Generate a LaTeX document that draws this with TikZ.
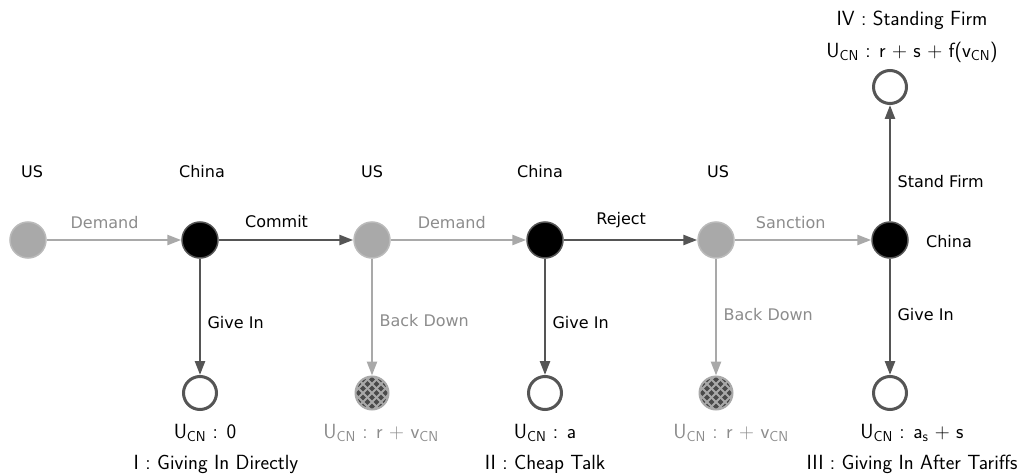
\documentclass[tikz,border=0pt]{standalone}
\usepackage{fontspec}
\newfontfamily\lbl{DejaVu Sans}
\usetikzlibrary{arrows.meta}
\definecolor{lite}{HTML}{A9A9A9}
\definecolor{dark}{HTML}{555555}
\definecolor{hatchdark}{HTML}{4A4A4A}
\definecolor{txtgray}{HTML}{8C8C8C}
\newcommand\UCN{U\textsubscript{CN}}
\tikzset{
  pnode/.style={circle,minimum size=36pt,inner sep=0pt,line width=1.5pt},
  usnode/.style={pnode,fill=lite,draw=lite!80!white},
  cnnode/.style={pnode,fill=black,draw=dark},
  term/.style={circle,minimum size=33pt,inner sep=0pt,draw=dark,line width=3pt,fill=white},
  hterm/.style={circle,minimum size=33pt,inner sep=0pt,draw=lite,line width=2pt,
    path picture={
      \fill[hatchdark] (path picture bounding box.south west) rectangle (path picture bounding box.north east);
      \foreach \i in {-54,-45,...,54} {
        \draw[lite,line width=1.8pt] ([shift={(\i-30,-30)}]path picture bounding box.center) -- ++(60,60);
        \draw[lite,line width=1.8pt] ([shift={(\i-30,30)}]path picture bounding box.center) -- ++(60,-60);
      }}},
  darkedge/.style={dark,line width=2.5pt,-{Triangle[length=14pt,width=10pt]}},
  liteedge/.style={lite,line width=2.5pt,-{Triangle[length=14pt,width=10pt]}},
  elbl/.style={font=\lbl\fontsize{16}{19}\selectfont,text=black},
  elblg/.style={font=\lbl\fontsize{16}{19}\selectfont,text=txtgray},
  plbl/.style={font=\lbl\fontsize{16}{19}\selectfont,text=black},
  tlbl/.style={font=\sffamily\fontsize{20.5}{24}\selectfont,text=black},
  tlblg/.style={font=\sffamily\fontsize{20.5}{24}\selectfont,text=txtgray},
}
\begin{document}
\begin{tikzpicture}[x=1pt,y=-1pt]
\useasboundingbox (0,0) rectangle (1030,476);
% decision nodes
\node[usnode] (us1) at (28,240) {};
\node[cnnode] (cn1) at (200,240) {};
\node[usnode] (us2) at (372,240) {};
\node[cnnode] (cn2) at (545,240) {};
\node[usnode] (us3) at (716,240) {};
\node[cnnode] (cn3) at (890,240) {};
% terminals
\node[term] (t1) at (200,393) {};
\node[hterm] (t2) at (372,393) {};
\node[term] (t3) at (545,393) {};
\node[hterm] (t4) at (716,393) {};
\node[term] (t5) at (890,393) {};
\node[term] (t6) at (890,87) {};
% player labels
\node[plbl] (p1) at (32,172) {US};
\node[plbl] (p2) at (202,172) {China};
\node[plbl] (p3) at (372,172) {US};
\node[plbl] (p4) at (540,172) {China};
\node[plbl] (p5) at (718,172) {US};
\node[plbl] (p6) at (949,242) {China};
% edges
\draw[liteedge] (us1) -- (cn1) node[elblg,pos=0.43,above=7pt] {Demand};
\draw[darkedge] (cn1) -- (us2) node[elbl,pos=0.43,above=8pt] {Commit};
\draw[liteedge] (us2) -- (cn2) node[elblg,pos=0.45,above=7pt] {Demand};
\draw[darkedge] (cn2) -- (us3) node[elbl,pos=0.43,above=8pt] {Reject};
\draw[liteedge] (us3) -- (cn3) node[elblg,pos=0.41,above=7pt] {Sanction};
\draw[darkedge] (cn3) -- (t6) node[elbl,pos=0.34,right=3pt] {Stand Firm};
\draw[darkedge] (cn1) -- (t1) node[elbl,pos=0.55,right=3pt] {Give In};
\draw[liteedge] (us2) -- (t2) node[elblg,pos=0.53,right=3pt] {Back Down};
\draw[darkedge] (cn2) -- (t3) node[elbl,pos=0.55,right=3pt] {Give In};
\draw[liteedge] (us3) -- (t4) node[elblg,pos=0.48,right=3pt] {Back Down};
\draw[darkedge] (cn3) -- (t5) node[elbl,pos=0.48,right=3pt] {Give In};
% outcome labels
\node[tlbl] (u1) at (205,433) {\UCN\ : 0};
\node[tlbl] (o1) at (216,464) {I : Giving In Directly};
\node[tlblg] (u2) at (381,433) {\UCN\ : r $+$ v\textsubscript{CN}};
\node[tlbl] (u3) at (545,433) {\UCN\ : a};
\node[tlbl] (o3) at (545,464) {II : Cheap Talk};
\node[tlblg] (u4) at (731,433) {\UCN\ : r $+$ v\textsubscript{CN}};
\node[tlbl] (u5) at (912,433) {\UCN\ : a\textsubscript{s} $+$ s};
\node[tlbl] (o5) at (912,464) {III : Giving In After Tariffs};
\node[tlbl] (o6) at (912,20) {IV : Standing Firm};
\node[tlbl] (u6) at (912,52) {\UCN\ : r $+$ s $+$ f(v\textsubscript{CN})};
\end{tikzpicture}
\end{document}
